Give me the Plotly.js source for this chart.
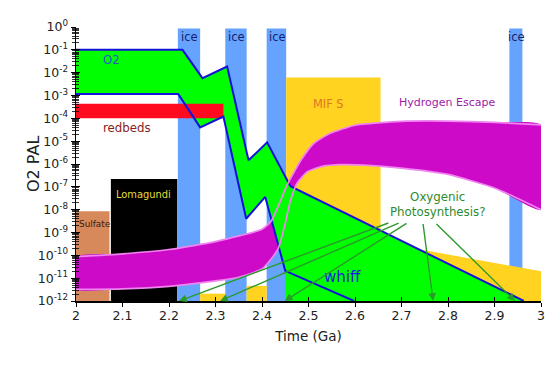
<!DOCTYPE html>
<html>
<head>
<meta charset="utf-8">
<script src="https://cdn.plot.ly/plotly-3.0.1.min.js"></script>
<style>html,body{margin:0;padding:0;background:#fff}#chart{width:558px;height:366px}</style>
</head>
<body>
<div id="chart"></div>
<script>
// ---------- data (time in Ga, O2 in PAL) ----------
const xTickVals = [2, 2.1, 2.2, 2.3, 2.4, 2.5, 2.6, 2.7, 2.8, 2.9, 3];
const xTickText = ['2', '2.1', '2.2', '2.3', '2.4', '2.5', '2.6', '2.7', '2.8', '2.9', '3'];
const yTickVals = [1e-12, 1e-11, 1e-10, 1e-9, 1e-8, 1e-7, 1e-6, 1e-5, 1e-4, 1e-3, 1e-2, 1e-1, 1];
const yTickText = ['10<sup>-12</sup>', '10<sup>-11</sup>', '10<sup>-10</sup>', '10<sup>-9</sup>', '10<sup>-8</sup>',
  '10<sup>-7</sup>', '10<sup>-6</sup>', '10<sup>-5</sup>', '10<sup>-4</sup>', '10<sup>-3</sup>',
  '10<sup>-2</sup>', '10<sup>-1</sup>', '10<sup>0</sup>'];

const floorPAL = 1e-12;

// Sulfate and Lomagundi blocks
const sulfateX = [2.0, 2.072];
const sulfateTop = 8.5e-9;
const lomagundiX = [2.075, 2.218];
const lomagundiTop = 2.2e-7;

// glaciations
const iceStart = [2.219, 2.321, 2.410, 2.932];
const iceEnd = [2.267, 2.367, 2.452, 2.960];
const iceTop = 0.85;

// MIF S record
const mifBoxX = [2.452, 2.655];
const mifBoxTop = 6.2e-3;
const mifSlopeX = [2.655, 3.0];
const mifSlopeTop = [3.7e-10, 2.0e-11];
const mifSmallStart = [2.267, 2.367];
const mifSmallEnd = [2.321, 2.410];
const mifSmallTop = [2.1e-12, 4.6e-12];

// redbeds
const redbedsX = [2.0, 2.317];
const redbedsY = [1e-4, 4.4e-4];

// O2 envelope
const o2UpperX = [2.0, 2.229, 2.272, 2.325, 2.371, 2.411, 2.461, 2.963];
const o2UpperY = [1e-1, 1e-1, 5.75e-3, 1.86e-2, 1.45e-6, 8.9e-6, 1.07e-7, 1e-12];
const o2LowerX = [2.0, 2.220, 2.267, 2.317, 2.366, 2.407, 2.450, 2.598];
const o2LowerY = [1.15e-3, 1.15e-3, 4.0e-5, 1.2e-4, 4.0e-9, 3.6e-8, 2.1e-11, 1e-12];

// Hydrogen escape band
const h2UpperX = [2.0, 2.1, 2.2, 2.3, 2.4, 2.42, 2.44, 2.453, 2.465, 2.483, 2.511, 2.547, 2.6, 2.7, 2.8, 2.9, 3.0];
const h2UpperY = [8.7e-11, 1.17e-10, 1.8e-10, 4.0e-10, 1.4e-9, 3.2e-9, 2.5e-8, 1.1e-7, 3.2e-7, 1.4e-6, 7.9e-6, 2.2e-5, 5.0e-5, 7.4e-5, 7.6e-5, 6.6e-5, 5.2e-5];
const h2LowerX = [2.0, 2.1, 2.2, 2.3, 2.35, 2.4, 2.42, 2.435, 2.45, 2.46, 2.475, 2.497, 2.53, 2.57, 2.62, 2.7, 2.8, 2.9, 3.0];
const h2LowerY = [3.2e-12, 3.4e-12, 4.4e-12, 7.6e-12, 1.1e-11, 2.5e-11, 7.1e-11, 2.0e-10, 2.5e-9, 2.0e-8, 1.4e-7, 4.5e-7, 7.9e-7, 9.3e-7, 8.9e-7, 6.6e-7, 3.5e-7, 8.9e-8, 1.0e-8];

// "Oxygenic Photosynthesis?" arrows
const arrowHeadX = [2.2215, 2.310, 2.449, 2.768, 2.944];
const arrowTailX = [2.675, 2.697, 2.714, 2.746, 2.772];
const arrowTailY = 2.75e-9;

// ---------- styles ----------
const C = {
  sulfate: '#d8895b', lomagundi: '#000000', ice: '#66a3ff', yellow: '#ffd31f',
  red: '#ff0a1e', green: '#00ff00', blue: '#1414d8', magenta: '#cc0ac8', pink: '#f084f0',
  arrow: '#2b9a2b'
};

function rect(x0, x1, y0, y1, color) {
  return { x: [x0, x0, x1, x1, x0], y: [y0, y1, y1, y0, y0], mode: 'lines', fill: 'toself',
    fillcolor: color, line: { width: 0, color: color }, hoverinfo: 'skip', showlegend: false };
}

const traces = [];
traces.push(rect(sulfateX[0], sulfateX[1], floorPAL, sulfateTop, C.sulfate));
traces.push(rect(lomagundiX[0], lomagundiX[1], floorPAL, lomagundiTop, C.lomagundi));
for (let i = 0; i < iceStart.length; i++) traces.push(rect(iceStart[i], iceEnd[i], floorPAL, iceTop, C.ice));
traces.push(rect(mifBoxX[0], mifBoxX[1], floorPAL, mifBoxTop, C.yellow));
for (let i = 0; i < mifSmallStart.length; i++) traces.push(rect(mifSmallStart[i], mifSmallEnd[i], floorPAL, mifSmallTop[i], C.yellow));
traces.push({ x: [mifSlopeX[0], mifSlopeX[0], mifSlopeX[1], mifSlopeX[1], mifSlopeX[0]],
  y: [floorPAL, mifSlopeTop[0], mifSlopeTop[1], floorPAL, floorPAL], mode: 'lines', fill: 'toself',
  fillcolor: C.yellow, line: { width: 0 }, hoverinfo: 'skip', showlegend: false });

// hydrogen escape fill
const h2PolyX = h2UpperX.concat(h2LowerX.slice().reverse(), [h2UpperX[0]]);
const h2PolyY = h2UpperY.concat(h2LowerY.slice().reverse(), [h2UpperY[0]]);
traces.push({ x: h2PolyX, y: h2PolyY, mode: 'lines', fill: 'toself', fillcolor: C.magenta,
  line: { width: 0, shape: 'spline', smoothing: 0.5 }, hoverinfo: 'skip', showlegend: false });

// O2 envelope fill
const o2PolyX = o2UpperX.concat([o2LowerX[6], o2LowerX[6]], o2LowerX.slice(0, 7).reverse());
const o2PolyY = o2UpperY.concat([floorPAL, o2LowerY[6]], o2LowerY.slice(0, 7).reverse());
traces.push({ x: o2PolyX, y: o2PolyY, mode: 'lines', fill: 'toself', fillcolor: C.green,
  line: { width: 0 }, hoverinfo: 'skip', showlegend: false });

// redbeds
traces.push(rect(redbedsX[0], redbedsX[1], redbedsY[0], redbedsY[1], C.red));

// O2 bounding lines
traces.push({ x: o2UpperX, y: o2UpperY, mode: 'lines', line: { color: C.blue, width: 2 }, hoverinfo: 'skip', showlegend: false, cliponaxis: false });
traces.push({ x: o2LowerX, y: o2LowerY, mode: 'lines', line: { color: C.blue, width: 2 }, hoverinfo: 'skip', showlegend: false, cliponaxis: false });

// hydrogen escape outlines
traces.push({ x: h2UpperX, y: h2UpperY, mode: 'lines', line: { color: C.pink, width: 1.7, shape: 'spline', smoothing: 0.5 }, hoverinfo: 'skip', showlegend: false });
traces.push({ x: h2LowerX, y: h2LowerY, mode: 'lines', line: { color: C.pink, width: 1.7, shape: 'spline', smoothing: 0.5 }, hoverinfo: 'skip', showlegend: false });

// helper trace to carry overlay axes (for ticks crossing the axis lines)
traces.push({ x: [xTickVals[0]], y: [yTickVals[0]], xaxis: 'x2', yaxis: 'y2', mode: 'markers',
  marker: { opacity: 0 }, hoverinfo: 'skip', showlegend: false });

// minor tick positions on the log axis
const minorVals = [];
for (let e = -12; e < 0; e++) for (let m = 2; m <= 9; m++) minorVals.push(m * Math.pow(10, e));

const FONT = 'DejaVu Sans, Verdana, sans-serif';
const L = v => Math.log10(v);

const annotations = [];
function label(text, x, ly, color, size) {
  annotations.push({ text: text, x: x, y: ly, xref: 'x', yref: 'y', showarrow: false,
    font: { family: FONT, size: size, color: color }, xanchor: 'center', yanchor: 'middle' });
}
for (let i = 0; i < iceStart.length; i++) label('ice', (iceStart[i] + iceEnd[i]) / 2 + 0.002, -0.42, '#15206b', 11.5);
label('O2', 2.077, -1.44, '#2a55cc', 11.7);
label('redbeds', 2.11, -4.41, '#8b1c1c', 11.8);
label('Sulfate', 2.0395, -8.62, '#3b1c0c', 8.9);
label('Lomagundi', 2.146, -7.34, '#e8dc3a', 9.9);
label('MIF S', 2.542, -3.36, '#dd7722', 11.4);
label('Hydrogen Escape', 2.798, -3.32, '#a020a8', 11);
label('whiff', 2.574, -10.96, '#1a1ae0', 15);
label('Oxygenic<br>Photosynthesis?', 2.778, -7.77, '#2e8b2e', 11.8);

// y-axis title
annotations.push({ text: 'O2 PAL', xref: 'paper', yref: 'paper', x: -0.0925, y: 0.5, textangle: -90,
  showarrow: false, xanchor: 'center', yanchor: 'middle', font: { family: FONT, size: 16, color: '#222' } });

for (let i = 0; i < arrowHeadX.length; i++) {
  annotations.push({ text: '', x: arrowHeadX[i], y: L(floorPAL), xref: 'x', yref: 'y',
    ax: arrowTailX[i], ay: L(arrowTailY), axref: 'x', ayref: 'y', showarrow: true,
    arrowhead: 2, arrowsize: 1.1, arrowwidth: 1.4, arrowcolor: C.arrow, standoff: 0, startstandoff: 0 });
}

const layout = {
  width: 558, height: 366,
  margin: { l: 76, r: 17, t: 27, b: 64.5 },
  paper_bgcolor: '#ffffff', plot_bgcolor: '#ffffff',
  font: { family: FONT, size: 12.5, color: '#222222' },
  showlegend: false,
  xaxis: {
    range: [2, 3], tickvals: xTickVals, ticktext: xTickText, ticks: 'outside', ticklen: 4,
    tickwidth: 1, tickcolor: '#000', showline: true, linecolor: '#000', linewidth: 1.5,
    showgrid: false, zeroline: false, tickfont: { family: FONT, size: 12.5, color: '#222' },
    ticklabelstandoff: -2,
    title: { text: 'Time (Ga)', font: { family: FONT, size: 13.5, color: '#222' }, standoff: 10 }
  },
  xaxis2: {
    range: [2, 3], overlaying: 'x', anchor: 'y', side: 'bottom', tickvals: xTickVals,
    ticks: 'inside', ticklen: 4, tickwidth: 1, tickcolor: '#000', showticklabels: false,
    showline: false, showgrid: false, zeroline: false
  },
  yaxis: {
    type: 'log', range: [-12, 0], tickvals: yTickVals, ticktext: yTickText, ticks: 'outside',
    ticklen: 4, tickwidth: 1, tickcolor: '#000', showline: true, linecolor: '#000', linewidth: 1.5,
    showgrid: false, zeroline: false, tickfont: { family: FONT, size: 12.5, color: '#222' },
    minor: { tickvals: minorVals, ticks: 'outside', ticklen: 2.5, tickwidth: 0.8, tickcolor: '#000', showgrid: false }
  },
  yaxis2: {
    type: 'log', range: [-12, 0], overlaying: 'y', anchor: 'x', side: 'left', tickvals: yTickVals,
    ticks: 'inside', ticklen: 4, tickwidth: 1, tickcolor: '#000', showticklabels: false,
    minor: { tickvals: minorVals, ticks: 'inside', ticklen: 2.5, tickwidth: 0.8, tickcolor: '#000', showgrid: false },
    showline: false, showgrid: false, zeroline: false
  },
  annotations: annotations
};

Plotly.newPlot('chart', traces, layout, { staticPlot: true, displayModeBar: false });
</script>
</body>
</html>
